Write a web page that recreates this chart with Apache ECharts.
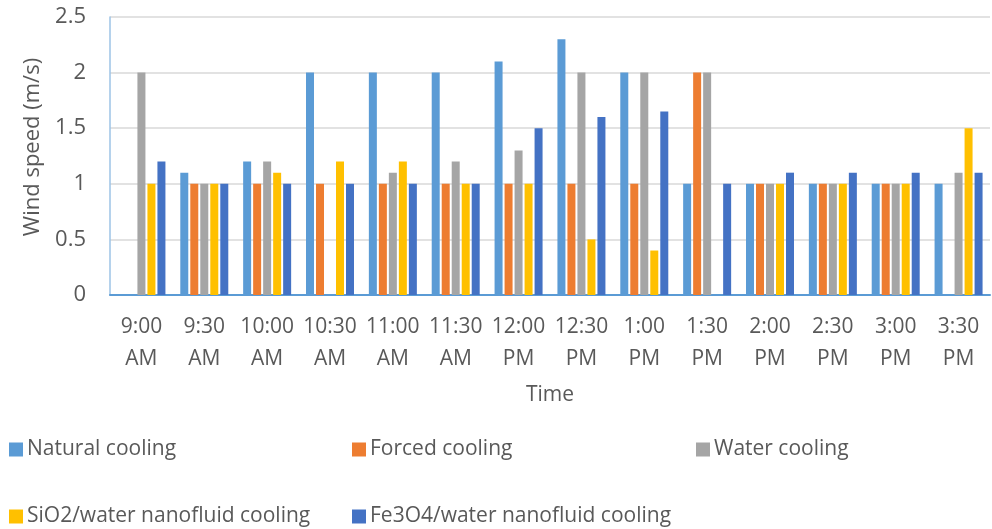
<!DOCTYPE html>
<html><head><meta charset="utf-8">
<script src="https://cdn.jsdelivr.net/npm/echarts@6/dist/echarts.min.js"></script>
<style>html,body{margin:0;padding:0;background:#fff}#c{width:992px;height:529px}</style>
</head><body><div id="c"></div>
<script>
const categories = ["9:00 AM","9:30 AM","10:00 AM","10:30 AM","11:00 AM","11:30 AM","12:00 PM","12:30 PM","1:00 PM","1:30 PM","2:00 PM","2:30 PM","3:00 PM","3:30 PM"];
const naturalCooling = [0,1.1,1.2,2,2,2,2.1,2.3,2,1,1,1,1,1];
const forcedCooling  = [0,1,1,1,1,1,1,1,1,2,1,1,1,0];
const waterCooling   = [2,1,1.2,0,1.1,1.2,1.3,2,2,2,1,1,1,1.1];
const sio2Cooling    = [1,1,1.1,1.2,1.2,1,1,0.5,0.4,0,1,1,1,1.5];
const fe3o4Cooling   = [1.2,1,1,1,1,1,1.5,1.6,1.65,1,1.1,1.1,1.1,1.1];
const yTicks = [0,0.5,1,1.5,2,2.5];
const seriesNames = ["Natural cooling","Forced cooling","Water cooling","SiO2/water nanofluid cooling","Fe3O4/water nanofluid cooling"];
const seriesData = [naturalCooling, forcedCooling, waterCooling, sio2Cooling, fe3o4Cooling];
const colors = ["#5B9BD5","#ED7D31","#A5A5A5","#FFC000","#4472C4"];

const FONT = "Open Sans";
const legendPos = [[9,439],[352,439],[696,439],[9,506],[352,506]];
const chart = echarts.init(document.getElementById('c'), null, {renderer:'canvas'});
chart.setOption({
  animation:false,
  color: colors,
  textStyle:{fontFamily:FONT},
  grid:{left:110,right:2,top:17,bottom:234,containLabel:false},
  legend: seriesNames.map((n,i)=>({
    data:[n], left:legendPos[i][0], top:legendPos[i][1], padding:0,
    itemWidth:14, itemHeight:14, icon:'rect',
    textStyle:{fontFamily:FONT,fontSize:21,color:'#595959',padding:[0,0,0,-1]}
  })),
  xAxis:{
    type:'category', data:categories,
    name:'Time', nameLocation:'middle', nameGap:90,
    nameTextStyle:{fontFamily:FONT,fontSize:21,color:'#595959'},
    axisLine:{lineStyle:{color:'#5B9BD5',width:2}},
    axisTick:{show:false},
    axisLabel:{interval:0,margin:16,fontSize:21,lineHeight:32,color:'#595959',fontFamily:FONT,
      formatter:v=>v.replace(' ','\n')}
  },
  yAxis:{
    type:'value', min:0, max:2.5, interval:0.5,
    name:'Wind speed (m/s)', nameLocation:'middle', nameGap:64,
    nameTextStyle:{fontFamily:FONT,fontSize:22,color:'#595959',padding:[0,0,0,18]},
    axisLine:{show:true,lineStyle:{color:'#9DC3E6',width:1.5}},
    axisTick:{show:false},
    splitLine:{lineStyle:{color:'#D9D9D9',width:1.5}},
    axisLabel:{margin:24,fontSize:22,color:'#595959',fontFamily:FONT,
      formatter:v=>{const t=yTicks.find(x=>Math.abs(x-v)<1e-9);return t===undefined?'':String(t);}}
  },
  series: seriesNames.map((n,i)=>({
    name:n, type:'bar', data:seriesData[i],
    barWidth:8, barGap:'25%',
    itemStyle:{color:colors[i]}
  }))
});
</script></body></html>
